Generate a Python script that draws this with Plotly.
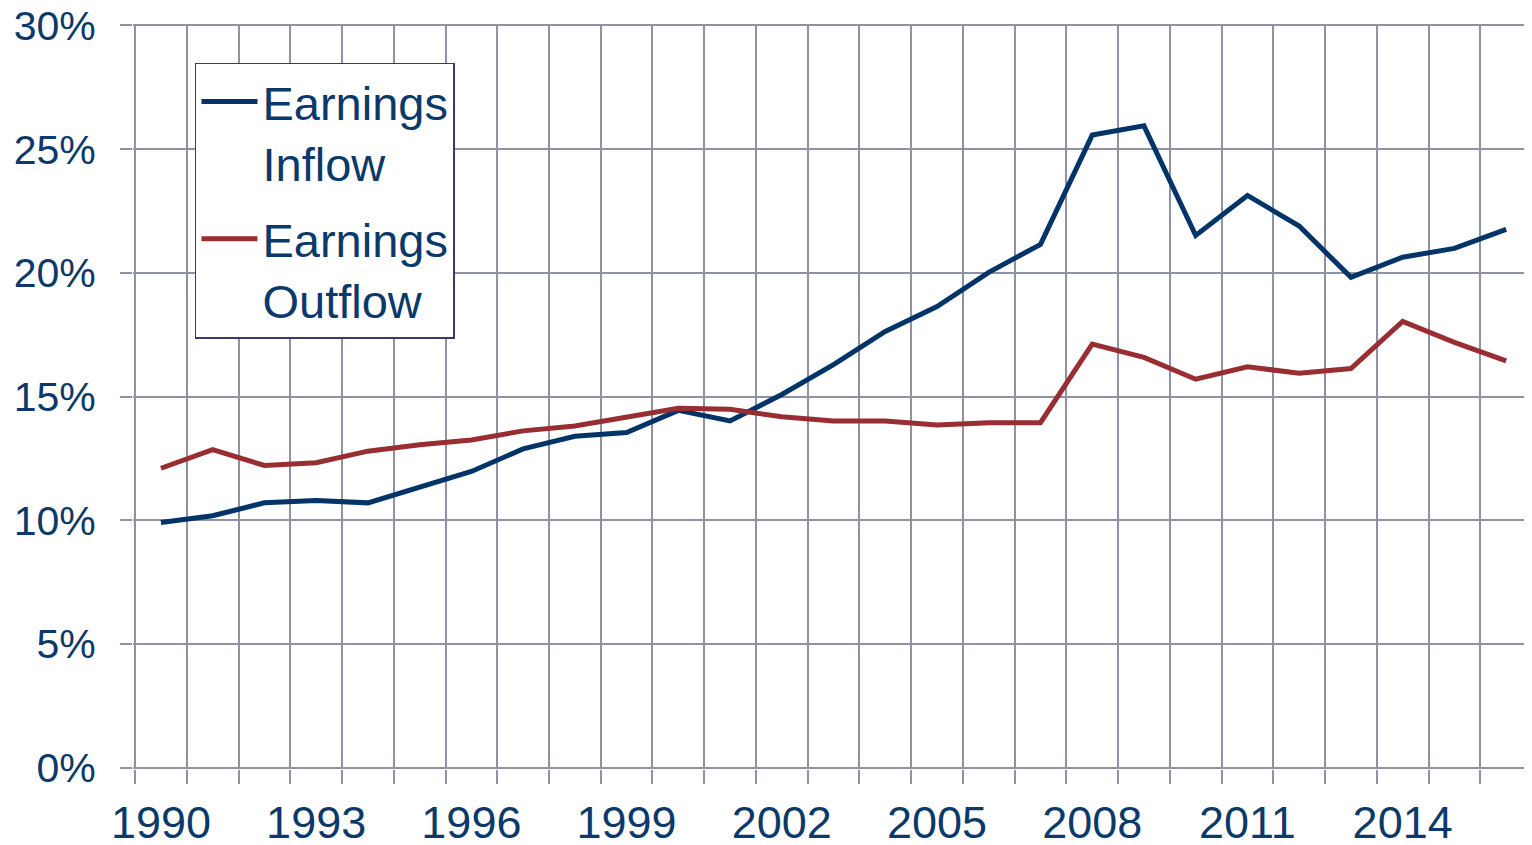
import plotly.graph_objects as go

years = list(range(1990, 2017))
inflow = [9.91, 10.18, 10.70, 10.80, 10.70, 11.34, 11.97, 12.88, 13.39, 13.54,
          14.44, 14.01, 15.08, 16.29, 17.63, 18.64, 20.02, 21.15, 25.57, 25.94,
          21.51, 23.13, 21.89, 19.82, 20.63, 20.99, 21.76]
outflow = [12.10, 12.85, 12.21, 12.32, 12.79, 13.05, 13.24, 13.61, 13.81, 14.18,
           14.52, 14.48, 14.18, 14.01, 14.01, 13.85, 13.94, 13.94, 17.12, 16.58,
           15.70, 16.20, 15.94, 16.13, 18.04, 17.19, 16.44]
series_names = ["Earnings<br>Inflow", "Earnings<br>Outflow"]
x_tick_years = [1990, 1993, 1996, 1999, 2002, 2005, 2008, 2011, 2014]
y_ticks = [0, 5, 10, 15, 20, 25, 30]

NAVY = "#023467"
RED = "#982D32"
GRID = "#8E92A3"
TEXT = "#0B3A6A"
FONT = "Liberation Sans, Arial, sans-serif"

fig = go.Figure()
fig.add_trace(go.Scatter(x=years, y=inflow, mode="lines", name=series_names[0],
                         legendgroup="in",
                         line=dict(color=NAVY, width=5)))
fig.add_trace(go.Scatter(x=years, y=outflow, mode="lines", name=series_names[1],
                         legendgroup="out",
                         line=dict(color=RED, width=5)))

boundaries = [y - 0.5 for y in years]

# page body has an 8px margin, so the figure is sized to fill the rest of the window
fig.update_layout(
    width=1524, height=837,
    margin=dict(l=125, r=0, t=16, b=76),
    paper_bgcolor="white", plot_bgcolor="white",
    font=dict(family=FONT, color=TEXT),
    showlegend=True,
    legend=dict(
        x=0.0443, y=0.9477, xanchor="left", yanchor="top",
        bgcolor="white", bordercolor="#3D3868", borderwidth=1.5,
        font=dict(family=FONT, size=47, color=TEXT),
        traceorder="grouped", tracegroupgap=12,
        valign="top", itemwidth=56,
    ),
    xaxis=dict(
        range=[1989.46, 2016.5], tickmode="array", tickvals=x_tick_years,
        ticktext=[str(v) for v in x_tick_years],
        ticks="", showgrid=False, zeroline=False, showline=False,
        automargin=False,
        tickfont=dict(family=FONT, size=45, color=TEXT),
        ticklabelstandoff=23,
        minor=dict(tickmode="array", tickvals=boundaries, ticks="outside",
                   ticklen=14, tickwidth=2, tickcolor=GRID,
                   showgrid=True, gridcolor=GRID, gridwidth=2),
    ),
    yaxis=dict(
        range=[-0.06, 30.06], tickmode="array", tickvals=y_ticks,
        ticktext=[f"{v}%" for v in y_ticks],
        ticks="outside", ticklen=12, tickwidth=2, tickcolor=GRID,
        showgrid=True, gridcolor=GRID, gridwidth=2,
        zeroline=False, showline=False, automargin=False,
        ticklabeloverflow="allow",
        tickfont=dict(family=FONT, size=41, color=TEXT),
        ticklabelstandoff=16,
    ),
)

fig.write_html("out.html")
